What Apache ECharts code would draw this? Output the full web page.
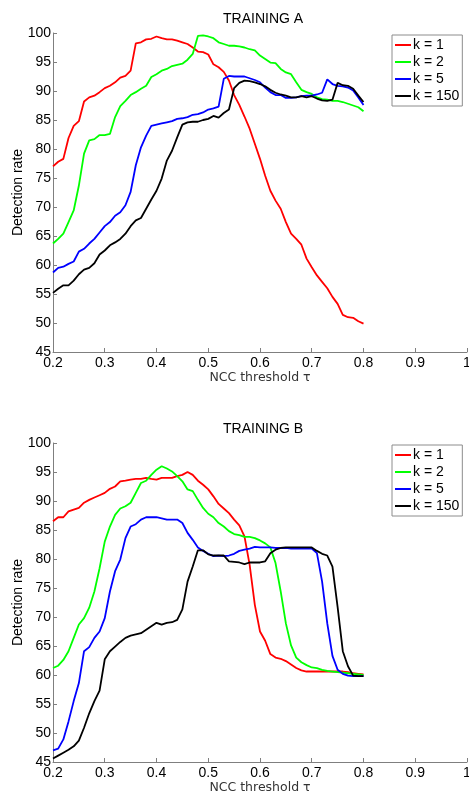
<!DOCTYPE html>
<html>
<head>
<meta charset="utf-8">
<script src="https://cdn.jsdelivr.net/npm/echarts@6/dist/echarts.min.js"></script>
<style>
html,body{margin:0;padding:0;background:#fff;}
#chart{width:469px;height:792px;}
</style>
</head>
<body>
<div id="chart"></div>
<script>
// NCC threshold values (x)
var thresholds = [0.20,0.21,0.22,0.23,0.24,0.25,0.26,0.27,0.28,0.29,0.30,
  0.31,0.32,0.33,0.34,0.35,0.36,0.37,0.38,0.39,0.40,
  0.41,0.42,0.43,0.44,0.45,0.46,0.47,0.48,0.49,0.50,
  0.51,0.52,0.53,0.54,0.55,0.56,0.57,0.58,0.59,0.60,
  0.61,0.62,0.63,0.64,0.65,0.66,0.67,0.68,0.69,0.70,
  0.71,0.72,0.73,0.74,0.75,0.76,0.77,0.78,0.79,0.80];

var seriesNames = ['k = 1', 'k = 2', 'k = 5', 'k = 150'];
var titles = ['TRAINING A', 'TRAINING B'];
var xTicks = [0.2,0.3,0.4,0.5,0.6,0.7,0.8,0.9,1];
var yTicks = [45,50,55,60,65,70,75,80,85,90,95,100];

// TRAINING A
var A_k1 = [77.0,77.8,78.3,81.9,84.0,84.8,88.2,88.9,89.2,89.8,90.5,
  90.9,91.5,92.3,92.6,93.5,98.2,98.4,98.9,99.0,99.4,
  99.1,98.9,98.9,98.7,98.4,98.1,97.5,96.8,96.7,96.3,
  94.6,94.1,93.3,91.8,89.3,87.6,85.6,83.5,80.9,78.3,
  75.4,72.8,71.1,69.7,67.4,65.4,64.5,63.5,61.1,59.6,
  58.2,57.1,56.0,54.5,53.3,51.4,51.0,50.9,50.3,49.9];
var A_k2 = [63.7,64.5,65.4,67.4,69.4,73.7,79.2,81.5,81.7,82.4,82.4,
  82.6,85.5,87.4,88.3,89.3,89.8,90.4,90.9,92.4,92.9,
  93.5,93.8,94.3,94.5,94.7,95.4,96.4,99.5,99.6,99.4,
  99.1,98.4,98.1,97.8,97.8,97.7,97.5,97.2,97.0,96.1,
  95.5,94.9,94.8,93.8,93.2,92.9,91.5,90.2,89.8,89.5,
  88.9,88.6,88.5,88.3,88.3,88.1,87.8,87.5,87.2,86.5];
var A_k5 = [58.7,59.5,59.7,60.2,60.6,62.3,62.8,63.7,64.5,65.6,66.7,
  67.4,68.5,69.1,70.3,72.6,77.2,80.3,82.3,84.0,84.2,
  84.4,84.6,84.8,85.2,85.3,85.5,85.9,86.0,86.3,86.8,
  87.0,87.3,92.1,92.6,92.5,92.5,92.5,92.2,91.9,91.5,
  90.6,89.8,89.3,89.3,88.8,88.8,88.9,89.1,89.2,89.2,
  89.4,89.7,92.0,91.2,90.9,90.8,90.6,90.1,88.9,87.6];
var A_k150 = [55.2,55.9,56.5,56.5,57.3,58.4,59.2,59.5,60.3,61.8,62.5,
  63.4,63.9,64.5,65.4,66.7,67.7,68.1,69.7,71.3,72.8,
  74.9,78.0,79.7,82.0,84.2,84.6,84.7,84.7,85.0,85.2,
  85.7,85.4,86.2,86.8,90.5,91.4,91.8,91.7,91.5,91.2,
  90.8,90.2,89.7,89.4,89.2,88.9,88.9,89.1,88.9,89.1,
  88.7,88.4,88.3,88.5,91.4,91.0,90.9,90.4,89.2,88.1];

// TRAINING B
var B_k1 = [86.5,87.2,87.2,88.2,88.5,88.8,89.7,90.2,90.6,91.0,91.4,
  92.1,92.5,93.4,93.5,93.7,93.8,93.8,94.0,93.8,93.7,
  94.0,94.0,94.0,94.3,94.5,95.0,94.5,93.5,92.8,92.0,
  90.8,89.5,88.7,87.9,86.8,85.8,83.9,79.0,72.1,67.5,
  65.9,63.6,63.0,62.8,62.4,61.8,61.2,60.8,60.6,60.6,
  60.6,60.6,60.6,60.6,60.6,60.6,60.5,60.3,60.2,60.1];
var B_k2 = [61.2,61.6,62.6,64.1,66.4,68.7,69.8,71.6,74.4,78.4,83.0,
  85.6,87.6,88.7,89.1,89.7,91.4,93.1,93.5,94.5,95.4,
  96.0,95.6,95.1,94.3,93.4,92.0,91.7,90.2,88.8,87.8,
  87.2,86.2,85.6,84.8,84.3,84.1,83.8,83.8,83.6,83.2,
  82.7,82.0,79.3,74.4,68.9,65.1,63.0,62.2,61.7,61.3,
  61.2,60.9,60.7,60.6,60.5,60.4,60.3,60.2,60.1,60.0];
var B_k5 = [47.0,47.3,48.9,52.0,55.5,58.6,64.1,64.8,66.4,67.5,69.8,
  74.4,77.9,79.9,83.6,85.6,86.0,86.8,87.2,87.2,87.2,
  87.0,86.8,86.8,86.8,86.2,84.5,83.3,82.0,81.4,80.9,
  80.5,80.6,80.5,80.6,80.9,81.4,81.6,81.8,82.1,82.0,
  82.0,82.0,81.9,81.9,81.9,81.8,81.8,81.8,81.8,81.8,
  81.0,76.1,68.9,63.3,60.9,60.2,59.9,59.8,59.8,59.8];
var B_k150 = [45.6,46.1,46.6,47.1,47.7,48.7,50.9,53.4,55.5,57.3,62.7,
  64.1,64.9,65.7,66.4,66.8,67.0,67.2,67.8,68.4,69.0,
  68.7,69.0,69.1,69.5,71.3,76.1,78.7,81.5,81.5,80.8,
  80.6,80.6,80.6,79.6,79.5,79.4,79.1,79.4,79.4,79.4,
  79.6,81.0,81.6,81.9,82.0,82.0,82.0,82.0,82.0,82.0,
  81.4,80.9,80.6,78.7,71.7,64.1,61.5,59.9,59.8,59.8];

var colors = ['#ff0000', '#00ff00', '#0000ff', '#000000'];
var panels = [[A_k1, A_k2, A_k5, A_k150], [B_k1, B_k2, B_k5, B_k150]];

var FONT = "'Liberation Sans', Arial, sans-serif";
var AXIS_COLOR = '#7f7f7f';

function zip(ys) {
  return thresholds.map(function (x, i) { return [x, ys[i]]; });
}

var grids = [
  { left: 53, top: 33, width: 414, height: 319, containLabel: false, outerBoundsMode: 'none' },
  { left: 53, top: 443, width: 414, height: 319, containLabel: false, outerBoundsMode: 'none' }
];

var xAxes = [], yAxes = [], series = [], titleList = [], legends = [];
var legendTops = [35, 445];
var titleTops = [7, 417];

for (var p = 0; p < 2; p++) {
  xAxes.push({
    type: 'value', gridIndex: p,
    min: xTicks[0], max: xTicks[xTicks.length - 1], interval: 0.1,
    axisLine: { show: true, onZero: false, lineStyle: { color: AXIS_COLOR, width: 1 } },
    axisTick: { show: true, inside: true, length: 4, lineStyle: { color: AXIS_COLOR } },
    splitLine: { show: false },
    axisLabel: {
      color: '#000', fontSize: 14, fontFamily: FONT, margin: 4,
      showMaxLabel: true, showMinLabel: true, hideOverlap: false,
      formatter: function (v) { return String(+v.toFixed(1)); }
    },
    name: 'NCC threshold \u03c4', nameLocation: 'middle', nameGap: 19, nameMoveOverlap: false,
    nameTextStyle: { color: '#333', fontSize: 12.5, fontFamily: "'DejaVu Sans', sans-serif" }
  });
  yAxes.push({
    type: 'value', gridIndex: p,
    min: yTicks[0], max: yTicks[yTicks.length - 1], interval: 5,
    axisLine: { show: true, onZero: false, lineStyle: { color: AXIS_COLOR, width: 1 } },
    axisTick: { show: true, inside: true, length: 4, lineStyle: { color: AXIS_COLOR } },
    splitLine: { show: false },
    axisLabel: { color: '#000', fontSize: 14, fontFamily: FONT, margin: 2,
      showMaxLabel: true, showMinLabel: true, hideOverlap: false },
    name: 'Detection rate', nameLocation: 'middle', nameGap: 28, nameMoveOverlap: false,
    nameTextStyle: { color: '#000', fontSize: 14, fontFamily: FONT }
  });
  titleList.push({
    text: titles[p], left: 218, top: titleTops[p],
    textStyle: { color: '#000', fontSize: 14, fontWeight: 'normal', fontFamily: FONT }
  });
  legends.push({
    data: seriesNames, orient: 'vertical', left: 392, top: legendTops[p],
    padding: [2, 3, 2, 3], itemGap: 1, itemWidth: 16, itemHeight: 2,
    icon: 'rect', borderColor: '#8c8c8c', borderWidth: 1, backgroundColor: '#fff',
    selectedMode: false,
    textStyle: { color: '#000', fontSize: 14, fontFamily: FONT, lineHeight: 16, padding: [0, 0, 0, -3] }
  });
  for (var s = 0; s < 4; s++) {
    series.push({
      name: seriesNames[s], type: 'line', xAxisIndex: p, yAxisIndex: p,
      data: zip(panels[p][s]), showSymbol: false, symbol: 'none',
      color: colors[s],
      lineStyle: { color: colors[s], width: 1.8 },
      itemStyle: { color: colors[s] },
      z: 2
    });
  }
}

var chart = echarts.init(document.getElementById('chart'), null, { renderer: 'canvas' });
chart.setOption({
  animation: false,
  backgroundColor: '#fff',
  title: titleList,
  legend: legends,
  grid: grids,
  xAxis: xAxes,
  yAxis: yAxes,
  series: series
});
</script>
</body>
</html>
